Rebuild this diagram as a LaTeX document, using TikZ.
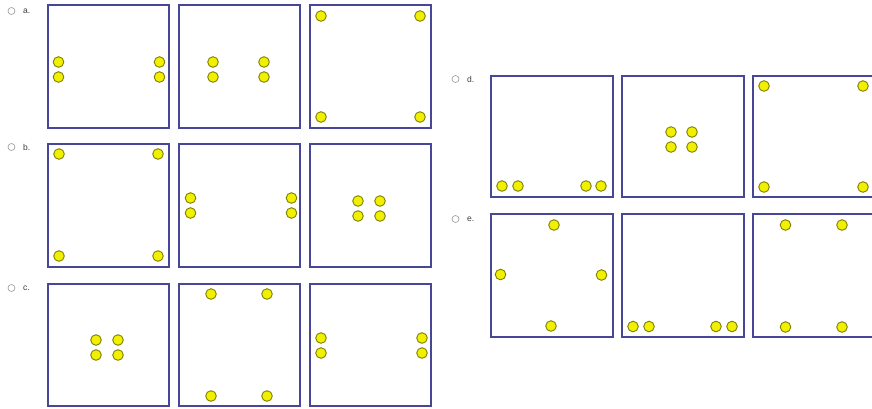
\documentclass[tikz,border=0pt]{standalone}
\usepackage{fontspec}
\setmainfont{Liberation Sans}
\usepackage{tikz}

\definecolor{frame}{RGB}{72,70,150}
\definecolor{ballfill}{RGB}{240,240,0}
\definecolor{ballline}{RGB}{128,128,0}
\definecolor{radio}{RGB}{150,150,150}
\definecolor{opt}{RGB}{60,60,60}

\tikzset{
    panel/.style={draw=frame, line width=1.8pt},
    ball/.style={fill=ballfill, draw=ballline, line width=0.9pt},
    radiobtn/.style={draw=radio, line width=0.6pt},
    optlabel/.style={text=opt, font=\fontsize{8.5}{10}\selectfont, anchor=west, inner sep=0pt}
}

\begin{document}
\begin{tikzpicture}[x=1pt, y=-1pt]
    \useasboundingbox (0,0) rectangle (872,408);
    %etichette
    \draw[radiobtn] (11.5,11) circle (3.5);
    \node[optlabel] (lbla) at (23,11) {a.};
    \draw[radiobtn] (11.5,147) circle (3.5);
    \node[optlabel] (lblb) at (23,147) {b.};
    \draw[radiobtn] (11.5,288) circle (3.5);
    \node[optlabel] (lblc) at (23,288) {c.};
    \draw[radiobtn] (455.5,79) circle (3.5);
    \node[optlabel] (lbld) at (467,79) {d.};
    \draw[radiobtn] (455.5,219) circle (3.5);
    \node[optlabel] (lble) at (467,219) {e.};
    %riquadri a
    \draw[panel] (48,5) rectangle (169,128);
    \draw[panel] (179,5) rectangle (300,128);
    \draw[panel] (310,5) rectangle (431,128);
    %riquadri b
    \draw[panel] (48,144) rectangle (169,267);
    \draw[panel] (179,144) rectangle (300,267);
    \draw[panel] (310,144) rectangle (431,267);
    %riquadri c
    \draw[panel] (48,284) rectangle (169,406);
    \draw[panel] (179,284) rectangle (300,406);
    \draw[panel] (310,284) rectangle (431,406);
    %riquadri d
    \draw[panel] (491,76) rectangle (613,197);
    \draw[panel] (622,76) rectangle (744,197);
    \draw[panel] (753,76) rectangle (875,197);
    %riquadri e
    \draw[panel] (491,214) rectangle (613,337);
    \draw[panel] (622,214) rectangle (744,337);
    \draw[panel] (753,214) rectangle (875,337);
    %palline a
    \foreach \px/\py in {58.5/62, 58.5/77, 159.5/62, 159.5/77,
                         213/62, 213/77, 264/62, 264/77,
                         321/16, 420/16, 321/117, 420/117}
        \draw[ball] (\px,\py) circle (5.3);
    %palline b
    \foreach \px/\py in {59/154, 158/154, 59/256, 158/256,
                         190.5/198, 190.5/213, 291.5/198, 291.5/213,
                         358/201, 380/201, 358/216, 380/216}
        \draw[ball] (\px,\py) circle (5.3);
    %palline c
    \foreach \px/\py in {96/340, 118/340, 96/355, 118/355,
                         211/294, 267/294, 211/396, 267/396,
                         321/338, 321/353, 422/338, 422/353}
        \draw[ball] (\px,\py) circle (5.3);
    %palline d
    \foreach \px/\py in {502/186, 518/186, 586/186, 601/186,
                         671/132, 692/132, 671/147, 692/147,
                         764/86, 863/86, 764/187, 863/187}
        \draw[ball] (\px,\py) circle (5.3);
    %palline e
    \foreach \px/\py in {554/225, 500.5/274.5, 601.5/275, 551/326,
                         633/326.5, 649/326.5, 716/326.5, 732/326.5,
                         785.5/225, 842/225, 785.5/327, 842/327}
        \draw[ball] (\px,\py) circle (5.3);
\end{tikzpicture}
\end{document}
